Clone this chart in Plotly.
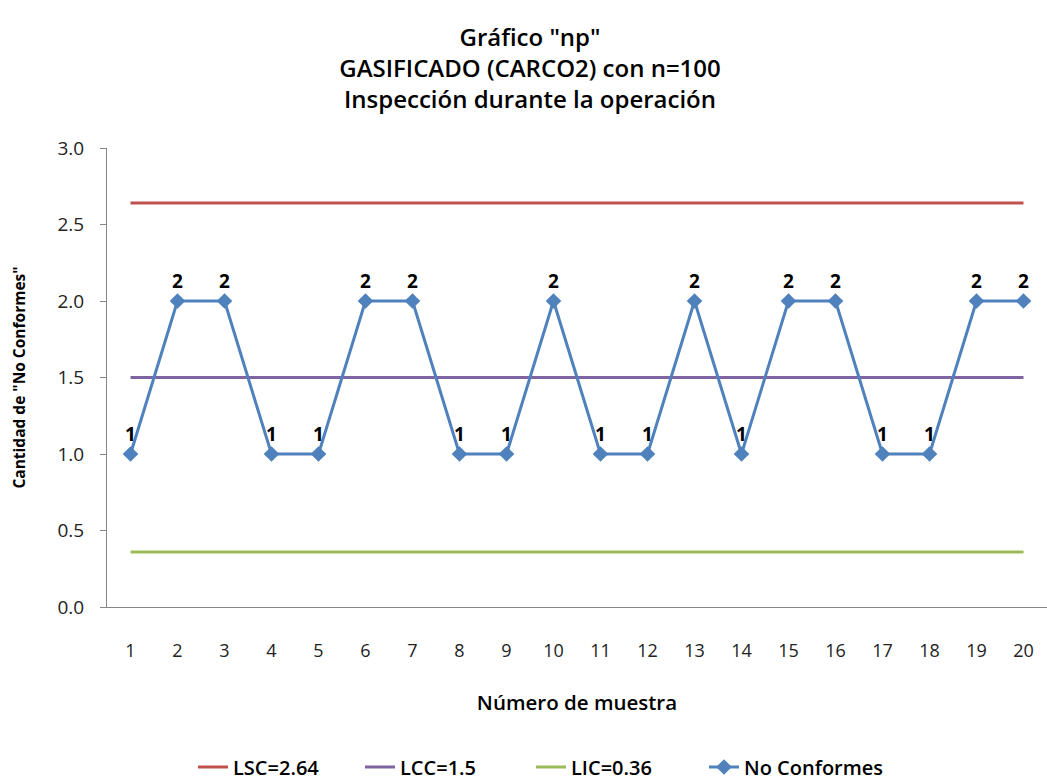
import plotly.graph_objects as go

muestras = list(range(1, 21))
no_conformes = [1, 2, 2, 1, 1, 2, 2, 1, 1, 2, 1, 1, 2, 1, 2, 2, 1, 1, 2, 2]
lsc = 2.64
lcc = 1.5
lic = 0.36

FONT = "Open Sans"

fig = go.Figure()
fig.add_trace(go.Scatter(x=muestras, y=[lsc] * 20, mode="lines", name="LSC=2.64",
                         line=dict(color="#C0504D", width=3), legend="legend"))
fig.add_trace(go.Scatter(x=muestras, y=[lcc] * 20, mode="lines", name="LCC=1.5",
                         line=dict(color="#8064A2", width=3), legend="legend2"))
fig.add_trace(go.Scatter(x=muestras, y=[lic] * 20, mode="lines", name="LIC=0.36",
                         line=dict(color="#9BBB59", width=3), legend="legend3"))
fig.add_trace(go.Scatter(x=muestras, y=no_conformes, mode="lines+markers+text", name="No Conformes",
                         line=dict(color="#4F81BD", width=3),
                         marker=dict(symbol="diamond", size=12, color="#4F81BD"),
                         text=[str(v) for v in no_conformes], textposition="top center",
                         textfont=dict(family=FONT, size=19, color="black", weight="bold"),
                         legend="legend4"))

W, H = 1047, 781


def leg(px_left):
    return dict(orientation="h", xref="container", yref="container",
                x=px_left / W, xanchor="left", y=1 - 767 / H, yanchor="middle",
                font=dict(family=FONT, size=20, color="black", weight=600),
                itemwidth=30, bgcolor="rgba(0,0,0,0)")


fig.update_layout(
    width=W, height=H,
    paper_bgcolor="white", plot_bgcolor="white",
    margin=dict(l=107, r=0, t=148, b=174),
    title=dict(text='Gráfico "np"<br>GASIFICADO (CARCO2) con n=100<br>Inspección durante la operación',
               x=530 / W, xanchor="center", xref="container", yref="container",
               y=1 - 46 / H, yanchor="middle",
               font=dict(family=FONT, size=24, color="black", weight=600)),
    showlegend=True,
    legend=leg(193),
    legend2=leg(360),
    legend3=leg(531),
    legend4=leg(704),
    xaxis=dict(range=[0.5, 20.5], tickmode="array", tickvals=muestras,
               ticktext=[str(m) for m in muestras], showgrid=False, zeroline=False,
               showline=True, linecolor="#868686", linewidth=1, ticks="",
               ticklabelstandoff=27,
               tickfont=dict(family=FONT, size=18, color="#222"),
               title=dict(text="Número de muestra", standoff=35,
                          font=dict(family=FONT, size=20.5, color="black", weight=600))),
    yaxis=dict(range=[0, 3.0], tickmode="array", tickvals=[0, 0.5, 1, 1.5, 2, 2.5, 3],
               ticktext=["0.0", "0.5", "1.0", "1.5", "2.0", "2.5", "3.0"],
               showgrid=False, zeroline=False, showline=True, linecolor="#868686", linewidth=1,
               ticks="outside", ticklen=6, tickcolor="#868686",
               ticklabelstandoff=12,
               tickfont=dict(family=FONT, size=19, color="#222"),
               title=dict(text='Cantidad de "No Conformes"', standoff=28,
                          font=dict(family=FONT, size=15.5, color="black", weight="bold"))),
)
fig.write_html("out.html")
